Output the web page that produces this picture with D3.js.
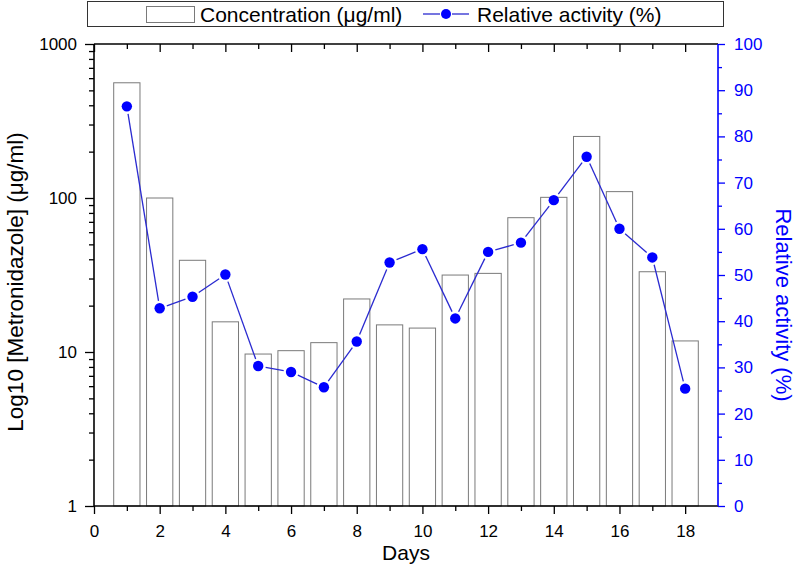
<!DOCTYPE html>
<html><head><meta charset="utf-8">
<script src="https://cdn.jsdelivr.net/npm/d3@7"></script>
<style>
body{margin:0;background:#fff;}
text{font-family:"Liberation Sans",Arial,sans-serif;}
</style></head>
<body><svg id="c" width="799" height="571"></svg>
<script>
const days = [1,2,3,4,5,6,7,8,9,10,11,12,13,14,15,16,17,18];
const concentration = [560,100,39.4,15.7,9.7,10.2,11.5,22.1,15.0,14.3,31.6,32.4,74.5,101,251,110,33.2,11.8];
const activity = [86.5,42.8,45.3,50.1,30.3,29.0,25.7,35.6,52.7,55.6,40.6,55.0,57.0,66.2,75.6,60.0,53.8,25.4];
const xTicks = [0,2,4,6,8,10,12,14,16,18];
const leftTicks = [1,10,100,1000];
const rightTicks = [0,10,20,30,40,50,60,70,80,90,100];
const legendLabels = ["Concentration (\u03bcg/ml)","Relative activity (%)"];

const svg = d3.select("#c");
const L=94,R=718,T=44,B=506;
const x = d3.scaleLinear().domain([0,19]).range([L,R]);
const yL = d3.scaleLog().domain([1,1000]).range([B,T]);
const yR = d3.scaleLinear().domain([0,100]).range([B,T]);
const blue="#0000ff";
const FONT="Liberation Sans, Arial, sans-serif";

// bars
const bw = x(0.8)-x(0);
svg.append("g").selectAll("rect").data(days).join("rect")
  .attr("x",(d)=>x(d)-bw/2).attr("y",(d,i)=>yL(concentration[i]))
  .attr("width",bw).attr("height",(d,i)=>B-yL(concentration[i]))
  .attr("fill","#fff").attr("stroke","#7a7a7a").attr("stroke-width",1);

// axes
const minorLog=[];
for(let e=0;e<3;e++)for(let k=2;k<=9;k++)minorLog.push(k*Math.pow(10,e));
const gl = svg.append("g").attr("transform",`translate(${L},0)`);
gl.call(d3.axisLeft(yL).tickValues(leftTicks).tickFormat(d3.format("d")).tickSize(9).tickPadding(8));
gl.append("g").call(d3.axisLeft(yL).tickValues(minorLog).tickFormat("").tickSize(5));
const gb = svg.append("g").attr("transform",`translate(0,${B})`);
gb.call(d3.axisBottom(x).tickValues(xTicks).tickSize(8).tickPadding(11));
gb.append("g").call(d3.axisBottom(x).tickValues(d3.range(1,19,2)).tickFormat("").tickSize(5));
const gt = svg.append("g").attr("transform",`translate(0,${T})`);
gt.call(d3.axisBottom(x).tickValues(xTicks).tickFormat("").tickSize(8));
gt.append("g").call(d3.axisBottom(x).tickValues(d3.range(1,19,2)).tickFormat("").tickSize(5));
const gr = svg.append("g").attr("transform",`translate(${R},0)`);
gr.call(d3.axisRight(yR).tickValues(rightTicks).tickSize(7).tickPadding(9));
gr.append("g").call(d3.axisRight(yR).tickValues(d3.range(5,100,10)).tickFormat("").tickSize(4));
[gl,gb,gt].forEach(g=>{g.selectAll("line").attr("stroke","#000").attr("stroke-width",1.3);
  g.selectAll("text").attr("font-size",17).attr("fill","#000").attr("font-family",FONT);});
gr.selectAll("line").attr("stroke",blue).attr("stroke-width",1.3);
gr.selectAll("text").attr("font-size",17).attr("fill",blue).attr("font-family",FONT);
svg.selectAll(".domain").remove();
svg.append("line").attr("x1",L).attr("x2",L).attr("y1",T).attr("y2",B).attr("stroke","#000").attr("stroke-width",1.6);
svg.append("line").attr("x1",L).attr("x2",R).attr("y1",B).attr("y2",B).attr("stroke","#000").attr("stroke-width",1.6);
svg.append("line").attr("x1",L).attr("x2",R).attr("y1",T).attr("y2",T).attr("stroke","#000").attr("stroke-width",1.6);
svg.append("line").attr("x1",R).attr("x2",R).attr("y1",T).attr("y2",B).attr("stroke",blue).attr("stroke-width",1.6);

// line with gaps near markers
const pts = days.map((d,i)=>[x(d),yR(activity[i])]);
const gap=7.5;
const seg = svg.append("g");
for(let i=0;i<pts.length-1;i++){
  const [x1,y1]=pts[i],[x2,y2]=pts[i+1];
  const len=Math.hypot(x2-x1,y2-y1), ux=(x2-x1)/len, uy=(y2-y1)/len;
  seg.append("line").attr("x1",x1+ux*gap).attr("y1",y1+uy*gap).attr("x2",x2-ux*gap).attr("y2",y2-uy*gap)
    .attr("stroke","#2a2ad0").attr("stroke-width",1.3);
}
svg.append("g").selectAll("circle").data(pts).join("circle")
  .attr("cx",d=>d[0]).attr("cy",d=>d[1]).attr("r",5.2).attr("fill",blue);

// titles
svg.append("text").attr("x",(L+R)/2).attr("y",560).attr("text-anchor","middle").attr("font-size",21).text("Days");
svg.append("text").attr("transform",`translate(23,282) rotate(-90)`).attr("text-anchor","middle").attr("font-size",22.5).text("Log10 [Metronidazole] (\u03bcg/ml)");
svg.append("text").attr("transform",`translate(776,305) rotate(90)`).attr("text-anchor","middle").attr("font-size",22).attr("fill",blue).text("Relative activity (%)");

// legend
svg.append("rect").attr("x",87.5).attr("y",1.5).attr("width",636).attr("height",25).attr("fill","#fff").attr("stroke","#333").attr("stroke-width",1);
svg.append("rect").attr("x",146.5).attr("y",6.5).attr("width",48).attr("height",16).attr("fill","#fff").attr("stroke","#7a7a7a");
svg.append("text").attr("x",200).attr("y",21.5).attr("font-size",21).text(legendLabels[0]);
svg.append("line").attr("x1",423).attr("x2",440).attr("y1",14).attr("y2",14).attr("stroke","#2a2ad0").attr("stroke-width",1.3);
svg.append("line").attr("x1",452).attr("x2",469).attr("y1",14).attr("y2",14).attr("stroke","#2a2ad0").attr("stroke-width",1.3);
svg.append("circle").attr("cx",446).attr("cy",14).attr("r",5).attr("fill",blue);
svg.append("text").attr("x",477).attr("y",21.5).attr("font-size",21).text(legendLabels[1]);
</script></body></html>
